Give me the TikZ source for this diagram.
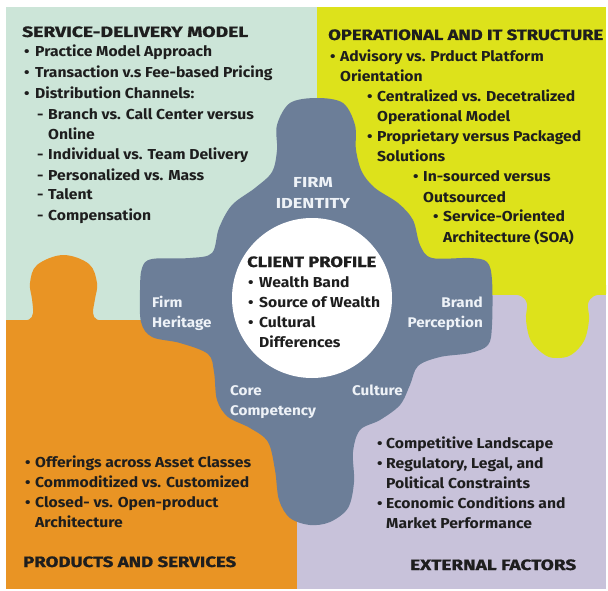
\documentclass[tikz,border=0pt]{standalone}
\usepackage{fontspec}
\usepackage{graphicx}
\setmainfont{Fira Sans}
\newfontfamily\bodyf{Fira Sans}[FakeStretch=1.09]
\newfontfamily\ttlf{Fira Sans}[FakeBold=0.8]
\newfontfamily\capf{Fira Sans}[FakeStretch=1.25]
\definecolor{mint}{HTML}{CCE5D8}
\definecolor{lime}{HTML}{DDE21B}
\definecolor{orng}{HTML}{E99424}
\definecolor{lav}{HTML}{C8C2DA}
\definecolor{slate}{HTML}{6C7E98}
\definecolor{ink}{HTML}{1E1E1E}
\definecolor{pale}{HTML}{EEF2F7}
\newcommand\tl[4]{\node[txt] (#1) at (#2,#3) {#4};}
\newcommand\bt[5]{\node[txt] (#1b) at (#2,#4) {•};\node[txt] (#1) at (#3,#4) {#5};}
\newcommand\fitw[2]{\resizebox{#1pt}{\height}{#2}}
\begin{document}
\begin{tikzpicture}[x=1pt,y=-1pt,
  txt/.style={anchor=base west,inner sep=0pt,text=ink,font=\fontsize{14.4}{16}\bodyf\bfseries},
  ttl/.style={anchor=base west,inner sep=0pt,text=ink,font=\fontsize{15}{16}\ttlf\bfseries},
  wlab/.style={anchor=base west,inner sep=0pt,text=pale,font=\fontsize{14}{16}\bodyf\bfseries},
  wlabr/.style={wlab,anchor=base east},
  wlabc/.style={anchor=base,inner sep=0pt,text=pale,font=\fontsize{14.5}{16}\capf\bfseries}]
\useasboundingbox (0,0) rectangle (608,591);
\fill[white] (0,0) rectangle (608,591);
% quadrants
\fill[mint] (6,7) rectangle (317,322);
\fill[lime] (317,7) rectangle (606,295);
\fill[orng] (6,320) rectangle (297,589);
\fill[lav] (297,295) rectangle (606,589);
% orange knob
\fill[orng] plot[smooth,tension=0.6] coordinates {(18,321) (29,319.5) (33,313) (32,299) (30,283) (37,265) (63,255) (89,264) (97,283) (95,299) (93,313) (97,319.5) (108,321)} -- (108,330) -- (18,330) -- cycle;
% yellow knob
\fill[lime] plot[smooth,tension=0.6] coordinates {(508,294) (521,296) (527,304) (526,320) (531,341) (545,355) (557,358) (571,355) (584,341) (589,320) (588,304) (594,296) (606,294)} -- (606,285) -- (508,285) -- cycle;
% central puzzle figure
\fill[slate] plot[smooth cycle,tension=0.55] coordinates {
 (317,98) (343,103) (355,125) (356,150) (362,172) (375,188) (398,203) (413,220) (420,245)
 (432,258) (470,258) (487,262) (492,280) (492,325) (488,345) (470,353) (440,357) (418,366)
 (410,385) (400,405) (380,420) (360,430) (353,452) (354,482) (348,508) (330,522) (310,525)
 (290,518) (279,500) (275,470) (268,442) (250,428) (228,417) (217,400) (214,372) (208,354)
 (180,343) (152,337) (141,322) (140,290) (142,268) (152,259) (190,258) (212,253) (219,228)
 (232,205) (255,188) (272,172) (277,150) (277,125) (290,103)};
\fill[white] (312,298) circle[radius=80];
% service-delivery model
\node[ttl] (sdm) at (22,37) {\fitw{226}{SERVICE-DELIVERY MODEL}};
\bt{s1}{24}{35}{57}{Practice Model Approach}
\bt{s2}{24}{35}{78}{Transaction v.s Fee-based Pricing}
\bt{s3}{24}{35}{99}{Distribution Channels:}
\tl{s4d}{37}{120}{-}\tl{s4}{48}{120}{Branch vs. Call Center versus}
\tl{s5}{48}{140}{Online}
\tl{s6d}{37}{160}{-}\tl{s6}{48}{160}{Individual vs. Team Delivery}
\tl{s7d}{37}{180}{-}\tl{s7}{48}{180}{Personalized vs. Mass}
\tl{s8d}{37}{200}{-}\tl{s8}{48}{200}{Talent}
\tl{s9d}{37}{220}{-}\tl{s9}{48}{220}{Compensation}
% operational and IT structure
\node[ttl] (oit) at (328,40) {\fitw{275}{OPERATIONAL AND IT STRUCTURE}};
\bt{o1}{330}{340}{62}{Advisory vs. Prduct Platform}
\tl{o2}{340}{82}{Orientation}
\bt{o3}{367}{377}{102}{Centralized vs. Decetralized}
\tl{o4}{377}{122}{Operational Model}
\bt{o5}{367}{377}{142}{Proprietary versus Packaged}
\tl{o6}{377}{162}{Solutions}
\bt{o7}{413}{423}{182}{In-sourced versus}
\tl{o8}{423}{202}{Outsourced}
\bt{o9}{433}{443}{222}{Service-Oriented}
\tl{o10}{443}{242}{Architecture (SOA)}
% products and services
\bt{p1}{25}{35}{467}{Offerings across Asset Classes}
\bt{p2}{25}{35}{487}{Commoditized vs. Customized}
\bt{p3}{25}{35}{507}{Closed- vs. Open-product}
\tl{p4}{35}{527}{Architecture}
\node[ttl] (pas) at (23,567) {\fitw{213}{PRODUCTS AND SERVICES}};
% external factors
\bt{e1}{377}{386}{448}{Competitive Landscape}
\bt{e2}{377}{386}{468}{Regulatory, Legal, and}
\tl{e3}{386}{488}{Political Constraints}
\bt{e4}{377}{386}{508}{Economic Conditions and}
\tl{e5}{386}{528}{Market Performance}
\node[ttl] (ext) at (410,570) {\fitw{166}{EXTERNAL FACTORS}};
% client profile
\node[ttl] (cp) at (247,267) {\fitw{129}{CLIENT PROFILE}};
\bt{c1}{248}{259}{287}{Wealth Band}
\bt{c2}{248}{259}{307}{Source of Wealth}
\bt{c3}{248}{259}{327}{Cultural}
\tl{c4}{259}{347}{Differences}
% labels on the figure
\node[wlabc] (fi1) at (313,188) {FIRM};
\node[wlabc] (fi2) at (313,208) {IDENTITY};
\node[wlab] (fh1) at (152,307) {Firm};
\node[wlab] (fh2) at (152,327) {Heritage};
\node[wlabr] (bp1) at (483,307) {Brand};
\node[wlabr] (bp2) at (483,327) {Perception};
\node[wlab] (cc1) at (230,395) {Core};
\node[wlab] (cc2) at (230,415) {Competency};
\node[wlab] (cu) at (352,395) {Culture};
\end{tikzpicture}
\end{document}
